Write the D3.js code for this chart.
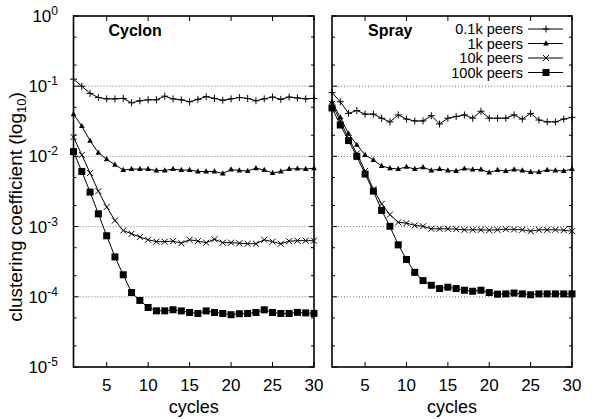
<!DOCTYPE html>
<html><head><meta charset="utf-8">
<script src="https://cdn.jsdelivr.net/npm/d3@7/dist/d3.min.js"></script>
<style>body{margin:0;background:#fff}text{font-family:"Liberation Sans",Arial,Helvetica,sans-serif}</style>
</head><body><svg id="c" width="603" height="419"></svg>
<script>
const cycles = [1,2,3,4,5,6,7,8,9,10,11,12,13,14,15,16,17,18,19,20,21,22,23,24,25,26,27,28,29,30];
const seriesNames = ["0.1k peers","1k peers","10k peers","100k peers"];
const panelTitles = ["Cyclon","Spray"];
const xTicks = [5,10,15,20,25,30];
const yTicks = [1,1e-1,1e-2,1e-3,1e-4,1e-5];
const yTickExp = ["0","-1","-2","-3","-4","-5"];

const cyclon01 = [0.126,0.100,0.079,0.069,0.066,0.066,0.067,0.058,0.062,0.064,0.064,0.072,0.066,0.064,0.060,0.065,0.071,0.067,0.063,0.066,0.069,0.067,0.062,0.066,0.070,0.065,0.070,0.068,0.066,0.067];
const cyclon1k = [0.040,0.027,0.0167,0.0113,0.0091,0.0076,0.0064,0.0066,0.0066,0.0066,0.0063,0.0063,0.0066,0.0064,0.0064,0.0061,0.0061,0.0061,0.0057,0.0065,0.0063,0.0062,0.0068,0.0064,0.0058,0.0061,0.0066,0.0067,0.0066,0.0068];
const cyclon10k = [0.0188,0.0105,0.0058,0.0032,0.0019,0.00122,0.00088,0.00079,0.00071,0.00065,0.00061,0.00061,0.00062,0.00058,0.00065,0.00062,0.00059,0.00066,0.00059,0.00059,0.00058,0.00057,0.00057,0.00065,0.00061,0.00057,0.00062,0.00063,0.00063,0.00063];
const cyclon100k = [0.0117,0.0061,0.0031,0.00152,0.00074,0.00037,0.000206,0.000115,0.0000887,0.0000705,0.0000631,0.0000631,0.0000653,0.000063,0.0000598,0.0000579,0.000063,0.0000598,0.0000579,0.0000556,0.0000574,0.0000579,0.0000598,0.0000653,0.0000598,0.0000579,0.0000579,0.000060,0.000059,0.000058];
const spray01 = [0.081,0.060,0.041,0.045,0.040,0.040,0.035,0.031,0.039,0.034,0.032,0.032,0.038,0.029,0.035,0.037,0.039,0.035,0.044,0.035,0.035,0.035,0.039,0.034,0.041,0.033,0.031,0.031,0.034,0.036];
const spray1k = [0.060,0.036,0.021,0.0146,0.0105,0.0089,0.0073,0.0068,0.0066,0.0071,0.0066,0.0070,0.0063,0.0066,0.0063,0.0062,0.0067,0.0065,0.0065,0.0059,0.0064,0.0062,0.0065,0.0063,0.0060,0.0060,0.0064,0.0063,0.0062,0.0066];
const spray10k = [0.056,0.032,0.018,0.011,0.0062,0.0034,0.0021,0.00148,0.00115,0.00112,0.00104,0.00101,0.00093,0.00093,0.00093,0.00092,0.00090,0.00090,0.00090,0.00089,0.00090,0.00092,0.00091,0.00090,0.00086,0.00090,0.00090,0.00090,0.00089,0.00086];
const spray100k = [0.049,0.028,0.0168,0.0100,0.0056,0.0032,0.0017,0.00101,0.00055,0.00034,0.000223,0.00017,0.000146,0.000131,0.000137,0.000131,0.000124,0.00012,0.000124,0.000115,0.000109,0.00011,0.000113,0.00011,0.000107,0.00011,0.00011,0.00011,0.00011,0.00011];

const panelsData = [[cyclon01,cyclon1k,cyclon10k,cyclon100k],[spray01,spray1k,spray10k,spray100k]];

const svg = d3.select("#c");
const plotTop = 16, plotBottom = 367;
const panelX = [[73.5,314],[332,572]];
const y = d3.scaleLog().domain([1e-5,1]).range([plotBottom, plotTop]);
const TFS = 17;

const markers = [
  g => g.append("path").attr("d","M-3.5,0H3.5M0,-3.5V3.5").attr("stroke","#000").attr("stroke-width",1).attr("fill","none"),
  g => g.append("path").attr("d","M0,-3.2L2.8,2L-2.8,2Z").attr("fill","#000"),
  g => g.append("path").attr("d","M-3,-3L3,3M-3,3L3,-3").attr("stroke","#000").attr("stroke-width",1).attr("fill","none"),
  g => g.append("rect").attr("x",-3.5).attr("y",-3.5).attr("width",7).attr("height",7).attr("fill","#000")
];

const minorVals = [];
for (let e=-5;e<0;e++){ minorVals.push(2*Math.pow(10,e)); minorVals.push(5*Math.pow(10,e)); }

panelsData.forEach((series, pi) => {
  const [x0,x1] = panelX[pi];
  const x = d3.scaleLinear().domain([1,30]).range([x0,x1]);
  const g = svg.append("g");
  g.selectAll(".grid").data([1e-1,1e-2,1e-3,1e-4]).enter().append("line")
    .attr("x1",x0).attr("x2",x1).attr("y1",d=>y(d)).attr("y2",d=>y(d))
    .attr("stroke","#555").attr("stroke-width",0.8).attr("stroke-dasharray","1,2");
  yTicks.forEach(v=>{
    g.append("line").attr("x1",x0).attr("x2",x0+5).attr("y1",y(v)).attr("y2",y(v)).attr("stroke","#000");
    g.append("line").attr("x1",x1).attr("x2",x1-5).attr("y1",y(v)).attr("y2",y(v)).attr("stroke","#000");
  });
  minorVals.forEach(v=>{
    g.append("line").attr("x1",x0).attr("x2",x0+3).attr("y1",y(v)).attr("y2",y(v)).attr("stroke","#000");
    g.append("line").attr("x1",x1).attr("x2",x1-3).attr("y1",y(v)).attr("y2",y(v)).attr("stroke","#000");
  });
  xTicks.forEach(v=>{
    g.append("line").attr("x1",x(v)).attr("x2",x(v)).attr("y1",plotBottom).attr("y2",plotBottom-5).attr("stroke","#000");
    g.append("line").attr("x1",x(v)).attr("x2",x(v)).attr("y1",plotTop).attr("y2",plotTop+5).attr("stroke","#000");
    g.append("text").attr("x",x(v)).attr("y",plotBottom+24).attr("text-anchor","middle").attr("font-size",TFS).text(v);
  });
  g.append("text").attr("x",(x0+x1)/2).attr("y",plotBottom+46).attr("text-anchor","middle").attr("font-size",18).text("cycles");
  const line = d3.line().x((d,i)=>x(cycles[i])).y(d=>y(d));
  series.forEach((vals, si) => {
    g.append("path").attr("d",line(vals)).attr("fill","none").attr("stroke","#000").attr("stroke-width",1);
    vals.forEach((v,i)=>{
      const mg = g.append("g").attr("transform",`translate(${x(cycles[i])},${y(v)})`);
      markers[si](mg);
    });
  });
  g.append("rect").attr("x",x0).attr("y",plotTop).attr("width",x1-x0).attr("height",plotBottom-plotTop)
    .attr("fill","none").attr("stroke","#000").attr("stroke-width",1.6);
  g.append("text").attr("x",x0+(pi===0?35:36)).attr("y",36).attr("font-size",16).attr("font-weight","bold").text(panelTitles[pi]);
});

yTicks.forEach((v,i)=>{
  const t = svg.append("text").attr("x",58).attr("y",y(v)+6).attr("text-anchor","end").attr("font-size",TFS);
  t.append("tspan").text("10");
  t.append("tspan").attr("dy",-7).attr("font-size",12).text(yTickExp[i]);
});
const yl = svg.append("text").attr("transform",`translate(22,207) rotate(-90)`).attr("text-anchor","middle").attr("font-size",19);
yl.append("tspan").text("clustering coefficient (log");
yl.append("tspan").attr("dy",4).attr("font-size",13).text("10");
yl.append("tspan").attr("dy",-4).text(")");

const legY = [29,43.5,58,72.5];
seriesNames.forEach((n,i)=>{
  svg.append("text").attr("x",523).attr("y",legY[i]+5).attr("text-anchor","end").attr("font-size",14.5).text(n);
  svg.append("line").attr("x1",528).attr("x2",563).attr("y1",legY[i]).attr("y2",legY[i]).attr("stroke","#000");
  const mg = svg.append("g").attr("transform",`translate(546,${legY[i]})`);
  markers[i](mg);
});
</script></body></html>
